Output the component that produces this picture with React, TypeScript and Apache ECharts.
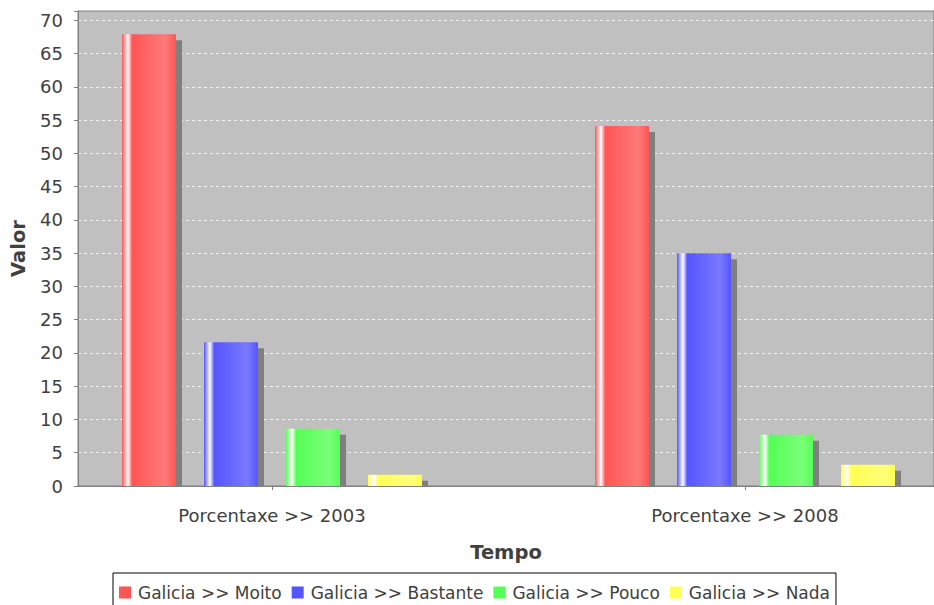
import React, { useEffect, useRef } from "react";
import * as echarts from "echarts";

// Categories and series
const categories = ["Porcentaxe >> 2003", "Porcentaxe >> 2008"];
const seriesNames = [
  "Galicia >> Moito",
  "Galicia >> Bastante",
  "Galicia >> Pouco",
  "Galicia >> Nada",
];
const moito = [67.9, 54.1];
const bastante = [21.6, 35.0];
const pouco = [8.6, 7.7];
const nada = [1.7, 3.2];
const seriesValues = [moito, bastante, pouco, nada];

const baseColors = ["#ff5555", "#5555ff", "#55ff55", "#ffff55"];
const brightColors = ["#ff7979", "#7979ff", "#79ff79", "#ffff79"];

const FONT = "DejaVu Sans";
const TEXT = "#404040";
const AXIS_GREY = "#808080";
const BAR_W = 54;
const BAR_STEP = 82; // bar width + gap
const SHADOW = 6;

const Y_MAX = 71.4;

function barGradient(i: number) {
  const c0 = baseColors[i];
  const c1 = brightColors[i];
  return new echarts.graphic.LinearGradient(0, 0, 1, 0, [
    { offset: 0, color: c0 },
    { offset: 0.11, color: "#ffffff" },
    { offset: 0.19, color: c0 },
    { offset: 0.8, color: c1 },
    { offset: 1, color: c0 },
  ]);
}

export default function App() {
  const ref = useRef<HTMLDivElement>(null);

  useEffect(() => {
    if (!ref.current) return;
    const chart = echarts.init(ref.current, undefined, { renderer: "svg" });

    const shadowSeries = seriesValues.map((vals, i) => ({
      type: "custom",
      xAxisIndex: 1,
      yAxisIndex: 1,
      z: 1,
      silent: true,
      clip: false,
      data: vals.map((v, k) => [k, v]),
      renderItem: (_params: any, api: any) => {
        const cat = api.value(0);
        const v = api.value(1);
        const top = api.coord([cat, v]);
        const base = api.coord([cat, 0]);
        const x = top[0] + (i - 1.5) * BAR_STEP - BAR_W / 2 + SHADOW;
        const y = top[1] + SHADOW;
        return {
          type: "rect",
          shape: { x, y, width: BAR_W, height: Math.max(0, base[1] - y) },
          style: { fill: "#7f7f7f" },
        };
      },
    }));

    const barSeries = seriesValues.map((vals, i) => ({
      name: seriesNames[i],
      type: "bar",
      xAxisIndex: 1,
      yAxisIndex: 1,
      z: 2,
      clip: false,
      barWidth: BAR_W,
      barGap: `${((BAR_STEP - BAR_W) / BAR_W) * 100}%`,
      data: vals,
      itemStyle: { color: barGradient(i) },
    }));

    chart.setOption({
      animation: false,
      textStyle: { fontFamily: FONT },
      grid: [
        {
          left: 78,
          top: 11,
          width: 862,
          height: 475,
          show: true,
          backgroundColor: "#c0c0c0",
          borderColor: AXIS_GREY,
          borderWidth: 1,
        },
        {
          // category positions span from the first to the last group centre
          left: 272,
          top: 11,
          width: 473,
          height: 475,
        },
      ],
      xAxis: [
        {
          type: "value",
          gridIndex: 0,
          min: 0,
          max: 1,
          offset: 6,
          axisLine: { show: true, lineStyle: { color: AXIS_GREY, width: 1 } },
          axisTick: { show: false },
          axisLabel: { show: false },
          splitLine: { show: false },
          name: "Tempo",
          nameLocation: "middle",
          nameGap: 50,
          nameTextStyle: {
            fontFamily: FONT,
            fontWeight: "bold",
            fontSize: 19.5,
            color: TEXT,
          },
        },
        {
          type: "category",
          gridIndex: 1,
          data: categories,
          boundaryGap: false,
          offset: 6,
          axisLine: { show: false },
          axisTick: {
            show: true,
            length: 4,
            lineStyle: { color: AXIS_GREY },
          },
          axisLabel: {
            fontFamily: FONT,
            fontSize: 18,
            color: TEXT,
            margin: 14,
          },
          splitLine: { show: false },
        },
      ],
      yAxis: [
        {
          type: "value",
          gridIndex: 0,
          min: 0,
          max: Y_MAX,
          interval: 5,
          offset: 6,
          axisLine: { show: true, lineStyle: { color: AXIS_GREY, width: 1 } },
          axisTick: { show: true, length: 4, lineStyle: { color: AXIS_GREY } },
          axisLabel: {
            fontFamily: FONT,
            fontSize: 18,
            color: TEXT,
            margin: 9,
            formatter: (v: number) => (Math.abs(v % 5) < 1e-9 ? String(v) : ""),
          },
          splitLine: {
            show: true,
            showMinLine: false,
            showMaxLine: false,
            lineStyle: { color: "#f2f2f2", type: [3, 3], width: 1 },
          },
          name: "Valor",
          nameLocation: "middle",
          nameGap: 44,
          nameTextStyle: {
            fontFamily: FONT,
            fontWeight: "bold",
            fontSize: 19.5,
            color: TEXT,
          },
        },
        {
          type: "value",
          gridIndex: 1,
          min: 0,
          max: Y_MAX,
          show: false,
          splitLine: { show: false },
        },
      ],
      legend: {
        left: 113,
        top: 573,
        orient: "horizontal",
        padding: [11, 6, 11, 6],
        borderColor: "#000000",
        borderWidth: 1,
        icon: "rect",
        itemWidth: 12,
        itemHeight: 12,
        itemGap: 10,
        textStyle: {
          fontFamily: FONT,
          fontSize: 17,
          color: TEXT,
          padding: [0, 0, 0, 2],
        },
        data: seriesNames.map((n, i) => ({
          name: n,
          itemStyle: { color: baseColors[i] },
        })),
      },
      series: [...shadowSeries, ...barSeries],
    });

    return () => chart.dispose();
  }, []);

  return (
    <div
      ref={ref}
      style={{
        position: "fixed",
        left: 0,
        top: 0,
        width: 934,
        height: 605,
        background: "#ffffff",
      }}
    />
  );
}
